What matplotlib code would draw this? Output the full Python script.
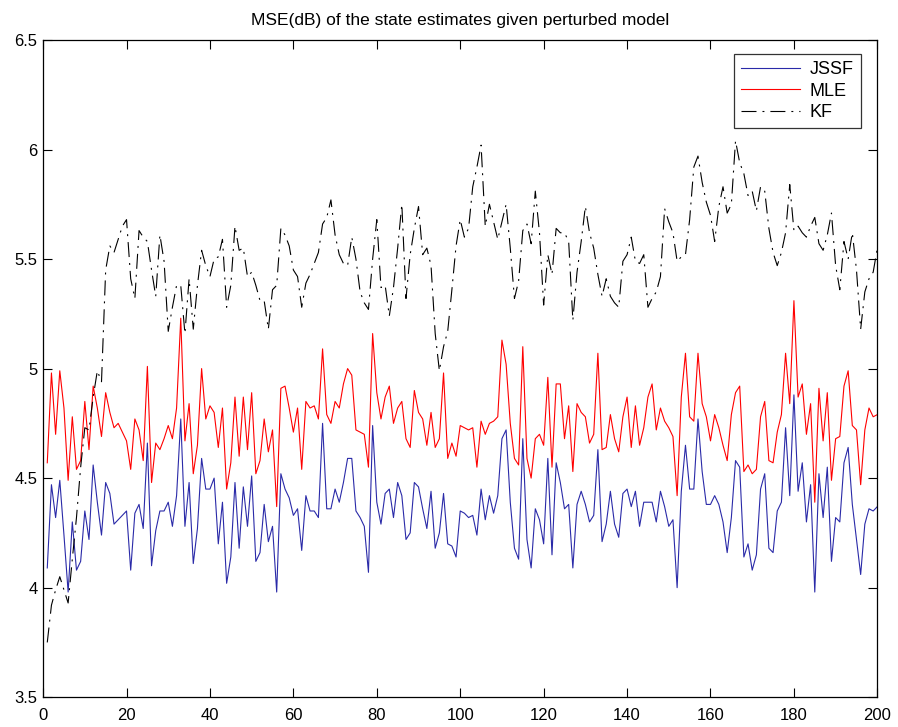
import numpy as np
import matplotlib
matplotlib.use('Agg')
import matplotlib.pyplot as plt

# MSE (dB) per time step for the three estimators
jssf = [4.09, 4.47, 4.32, 4.49, 4.24, 3.98, 4.30, 4.08, 4.12, 4.35, 4.22, 4.56, 4.39, 4.24, 4.48, 4.43, 4.29, 4.31, 4.33, 4.35,
        4.08, 4.34, 4.38, 4.27, 4.66, 4.10, 4.26, 4.35, 4.35, 4.39, 4.28, 4.42, 4.77,
        4.28, 4.48, 4.11, 4.27, 4.59, 4.45, 4.45, 4.50, 4.20, 4.39, 4.02, 4.14, 4.48, 4.18, 4.46, 4.28, 4.51, 4.12,
        4.16, 4.38, 4.21, 4.28, 3.98, 4.52, 4.45, 4.41, 4.33, 4.36, 4.17, 4.42, 4.35, 4.35, 4.32, 4.75,
        4.36, 4.36, 4.45, 4.39, 4.48, 4.59, 4.59, 4.35, 4.32, 4.28, 4.07, 4.74, 4.39, 4.29, 4.43, 4.45, 4.32, 4.48,
        4.42, 4.22, 4.25, 4.48, 4.46, 4.36, 4.27, 4.44, 4.18, 4.25, 4.43, 4.20, 4.19, 4.14, 4.35,
        4.34, 4.32, 4.33, 4.24, 4.45, 4.31, 4.42, 4.34, 4.42, 4.68, 4.72, 4.39, 4.18, 4.13, 4.68, 4.22, 4.09, 4.36,
        4.31, 4.20, 4.59, 4.15, 4.57, 4.48, 4.36, 4.38, 4.09, 4.38, 4.44, 4.38, 4.30, 4.33, 4.63, 4.21,
        4.29, 4.44, 4.29, 4.23, 4.43, 4.45, 4.37, 4.44, 4.28, 4.39, 4.39, 4.39, 4.30, 4.44, 4.37, 4.28, 4.31, 4.00,
        4.44, 4.65, 4.45, 4.45, 4.77, 4.53, 4.38, 4.38, 4.42, 4.38, 4.30, 4.16, 4.32, 4.58, 4.55,
        4.14, 4.20, 4.08, 4.15, 4.45, 4.52, 4.18, 4.16, 4.35, 4.39, 4.73, 4.42, 4.88, 4.44, 4.57, 4.30, 4.47, 3.98,
        4.52, 4.32, 4.55, 4.12, 4.32, 4.30, 4.57, 4.64, 4.38, 4.22, 4.06, 4.29, 4.36, 4.35, 4.37]

mle = [4.57, 4.98, 4.70, 4.99, 4.82, 4.49, 4.78, 4.54, 4.58, 4.85, 4.63, 4.92, 4.82, 4.69, 4.89, 4.80, 4.73, 4.75, 4.71, 4.67,
       4.54, 4.77, 4.72, 4.58, 5.01, 4.48, 4.66, 4.63, 4.68, 4.74, 4.68, 4.82, 5.23,
       4.67, 4.84, 4.52, 4.65, 5.00, 4.77, 4.83, 4.80, 4.64, 4.82, 4.45, 4.57, 4.87, 4.60, 4.87, 4.63, 4.89, 4.52,
       4.58, 4.77, 4.62, 4.72, 4.37, 4.91, 4.92, 4.82, 4.71, 4.82, 4.54, 4.85, 4.82, 4.83, 4.77, 5.09,
       4.79, 4.75, 4.85, 4.82, 4.93, 5.00, 4.97, 4.72, 4.71, 4.70, 4.55, 5.16, 4.89, 4.77, 4.87, 4.92, 4.75, 4.82,
       4.85, 4.68, 4.64, 4.90, 4.80, 4.77, 4.65, 4.80, 4.64, 4.68, 4.98, 4.59, 4.66, 4.60, 4.74,
       4.73, 4.72, 4.73, 4.55, 4.76, 4.70, 4.75, 4.76, 4.78, 5.13, 5.02, 4.75, 4.59, 4.56, 5.10, 4.59, 4.50, 4.68,
       4.70, 4.65, 4.96, 4.55, 4.93, 4.93, 4.68, 4.83, 4.53, 4.84, 4.80, 4.78, 4.66, 4.70, 5.07, 4.63,
       4.64, 4.79, 4.68, 4.62, 4.78, 4.87, 4.64, 4.83, 4.65, 4.73, 4.87, 4.93, 4.72, 4.82, 4.76, 4.73, 4.69, 4.42,
       4.87, 5.07, 4.78, 4.76, 5.07, 4.84, 4.78, 4.67, 4.79, 4.73, 4.65, 4.58, 4.79, 4.89, 4.92,
       4.53, 4.56, 4.52, 4.54, 4.78, 4.85, 4.58, 4.57, 4.71, 4.79, 5.07, 4.84, 5.31, 4.87, 4.93, 4.70, 4.84, 4.39,
       4.91, 4.67, 4.89, 4.49, 4.68, 4.69, 4.92, 4.99, 4.74, 4.72, 4.47, 4.72, 4.82, 4.78, 4.79]

kf = [3.75, 3.92, 3.99, 4.05, 3.99, 3.93, 4.13, 4.32, 4.55, 4.73, 4.72, 4.87, 4.99, 4.94, 5.45, 5.56, 5.53, 5.59, 5.65, 5.68,
      5.41, 5.32, 5.63, 5.60, 5.58, 5.45, 5.33, 5.61, 5.49, 5.17, 5.28, 5.38, 5.38,
      5.16, 5.41, 5.18, 5.38, 5.54, 5.47, 5.42, 5.50, 5.51, 5.59, 5.28, 5.38, 5.65, 5.54, 5.55, 5.42, 5.44, 5.38,
      5.31, 5.31, 5.18, 5.36, 5.38, 5.64, 5.61, 5.56, 5.45, 5.42, 5.28, 5.39, 5.43, 5.48, 5.53, 5.66,
      5.69, 5.77, 5.61, 5.52, 5.48, 5.47, 5.60, 5.50, 5.35, 5.30, 5.27, 5.50, 5.68, 5.37, 5.38, 5.24, 5.37, 5.55,
      5.75, 5.32, 5.52, 5.64, 5.74, 5.52, 5.55, 5.47, 5.16, 4.99, 5.10, 5.17, 5.36, 5.56, 5.68,
      5.60, 5.64, 5.83, 5.92, 6.02, 5.65, 5.75, 5.67, 5.59, 5.67, 5.75, 5.55, 5.32, 5.40, 5.63, 5.66, 5.57, 5.81,
      5.62, 5.29, 5.52, 5.43, 5.64, 5.62, 5.62, 5.58, 5.22, 5.44, 5.58, 5.74, 5.62, 5.55, 5.43, 5.33,
      5.41, 5.33, 5.30, 5.28, 5.49, 5.52, 5.60, 5.49, 5.48, 5.52, 5.28, 5.32, 5.35, 5.42, 5.73, 5.67, 5.62, 5.49,
      5.51, 5.52, 5.68, 5.92, 5.97, 5.85, 5.76, 5.70, 5.58, 5.74, 5.83, 5.71, 5.75, 6.04, 5.94,
      5.89, 5.79, 5.81, 5.72, 5.83, 5.81, 5.64, 5.53, 5.47, 5.53, 5.62, 5.84, 5.63, 5.65, 5.62, 5.60, 5.65, 5.69,
      5.57, 5.54, 5.61, 5.71, 5.47, 5.36, 5.58, 5.50, 5.62, 5.45, 5.18, 5.35, 5.41, 5.44, 5.55]

t = np.arange(1, len(jssf) + 1)

plt.rcParams['font.family'] = ['Liberation Sans', 'DejaVu Sans']
plt.rcParams['lines.scale_dashes'] = False

fig = plt.figure(figsize=(8.98, 7.27), dpi=100)
ax = fig.add_axes([0.048, 0.041, 0.929, 0.904])

ax.plot(t, jssf, color='#2a2aa8', lw=0.8, label='JSSF')
ax.plot(t, mle, color='#ff0000', lw=0.8, label='MLE')
ax.plot(t, kf, color='black', lw=0.8, dashes=(10.8, 4.3, 1.4, 4.3), label='KF')

ax.set_xlim(0, 200)
ax.set_ylim(3.5, 6.5)
ax.set_xticks(np.arange(0, 201, 20))
ax.set_yticks(np.arange(3.5, 6.51, 0.5))
ax.set_yticklabels(['3.5', '4', '4.5', '5', '5.5', '6', '6.5'])
ax.tick_params(direction='in', length=6.5, width=0.8, top=True, right=True, labelsize=12, pad=4)
ax.tick_params(axis='x', pad=7.5)
for s in ax.spines.values():
    s.set_linewidth(0.9)

ax.set_title('MSE(dB) of the state estimates given perturbed model', fontsize=12.5, pad=11)

leg = ax.legend(loc='upper right', bbox_to_anchor=(0.98, 0.979), fontsize=13, frameon=True, fancybox=False,
                handlelength=3.3, handletextpad=0.5, borderpad=0.4, labelspacing=0.25, borderaxespad=0)
leg.get_frame().set_edgecolor('black')
leg.get_frame().set_linewidth(0.9)

fig.savefig('out.png', dpi=100)
